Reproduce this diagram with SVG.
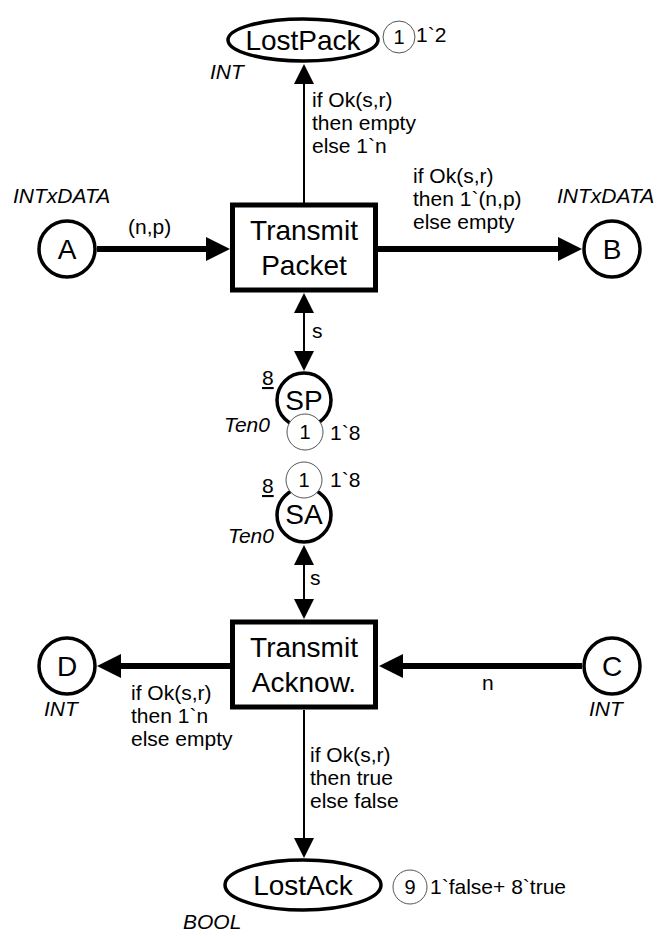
<svg xmlns="http://www.w3.org/2000/svg" width="659" height="936" viewBox="0 0 659 936">
<style>
text{font-family:"Liberation Sans",Arial,sans-serif;fill:#000}
.nm{font-size:28px;text-anchor:middle}
.lb{font-size:21px}
.ty{font-size:21px;font-style:italic}
.tk{font-size:20px;text-anchor:middle}
.place{fill:#fff;stroke:#000;stroke-width:3.5}
.trans{fill:#fff;stroke:#000;stroke-width:5}
.tok{fill:#fff;stroke:#555;stroke-width:1}
.thick{stroke:#000;stroke-width:6;fill:none}
.thin{stroke:#000;stroke-width:2;fill:none}
</style>
<defs>
<marker id="ahT" markerUnits="userSpaceOnUse" viewBox="0 0 24 24" markerWidth="24" markerHeight="24" refX="1" refY="12" orient="auto-start-reverse"><path d="M0,0 L24,12 L0,24 z" fill="#000"/></marker>
<marker id="ahN" markerUnits="userSpaceOnUse" viewBox="0 0 20 20" markerWidth="20" markerHeight="20" refX="1" refY="10" orient="auto-start-reverse"><path d="M0,0 L20,10 L0,20 z" fill="#000"/></marker>
</defs>
<rect width="659" height="936" fill="#fff"/>
<g id="connectors">
<line class="thin" x1="304" y1="203" x2="304" y2="83" marker-end="url(#ahN)"/>
<line class="thick" x1="97" y1="249" x2="207" y2="249" marker-end="url(#ahT)"/>
<line class="thick" x1="378" y1="249" x2="559" y2="249" marker-end="url(#ahT)"/>
<line class="thin" x1="304" y1="312" x2="304" y2="352" marker-start="url(#ahN)" marker-end="url(#ahN)"/>
<line class="thin" x1="304" y1="564" x2="304" y2="600" marker-start="url(#ahN)" marker-end="url(#ahN)"/>
<line class="thick" x1="230" y1="666" x2="120" y2="666" marker-end="url(#ahT)"/>
<line class="thick" x1="582" y1="666" x2="402" y2="666" marker-end="url(#ahT)"/>
<line class="thin" x1="304" y1="710" x2="304" y2="839" marker-end="url(#ahN)"/>
<text class="lb" x="312" y="107">if Ok(s,r)</text>
<text class="lb" x="312" y="130">then empty</text>
<text class="lb" x="312" y="153">else 1`n</text>
<text class="lb" x="128" y="234">(n,p)</text>
<text class="lb" x="413" y="183">if Ok(s,r)</text>
<text class="lb" x="413" y="206">then 1`(n,p)</text>
<text class="lb" x="413" y="229">else empty</text>
<text class="lb" x="312" y="338">s</text>
<text class="lb" x="310" y="585">s</text>
<text class="lb" x="482" y="690">n</text>
<text class="lb" x="131" y="700">if Ok(s,r)</text>
<text class="lb" x="131" y="723">then 1`n</text>
<text class="lb" x="131" y="746">else empty</text>
<text class="lb" x="310" y="762">if Ok(s,r)</text>
<text class="lb" x="310" y="785">then true</text>
<text class="lb" x="310" y="808">else false</text>
</g>
<g id="LostPack">
<ellipse class="place" cx="303" cy="40" rx="75" ry="21"/>
<text class="nm" x="303" y="50">LostPack</text>
<text class="ty" x="210" y="79">INT</text>
<circle class="tok" cx="399" cy="37" r="16"/>
<text class="tk" x="399" y="44">1</text>
<text class="lb" x="416" y="42">1`2</text>
</g>
<g id="A">
<circle class="place" cx="67" cy="249" r="28"/>
<text class="nm" x="67" y="259">A</text>
<text class="ty" x="13" y="203">INTxDATA</text>
</g>
<g id="B">
<circle class="place" cx="612" cy="249" r="28"/>
<text class="nm" x="612" y="259">B</text>
<text class="ty" x="557" y="203">INTxDATA</text>
</g>
<g id="TransmitPacket">
<rect class="trans" x="232.5" y="205" width="143" height="85"/>
<text class="nm" x="304" y="240">Transmit</text>
<text class="nm" x="304" y="275">Packet</text>
</g>
<g id="SP">
<circle class="place" cx="304" cy="400" r="27"/>
<text class="nm" x="304" y="410">SP</text>
<text class="lb" x="262" y="385" text-decoration="underline">8</text>
<text class="ty" x="224" y="432">Ten0</text>
<circle class="tok" cx="305" cy="432" r="18"/>
<text class="tk" x="305" y="439">1</text>
<text class="lb" x="330" y="440">1`8</text>
</g>
<g id="SA">
<circle class="place" cx="304" cy="515" r="27"/>
<text class="nm" x="304" y="524">SA</text>
<text class="lb" x="262" y="493" text-decoration="underline">8</text>
<text class="ty" x="228" y="543">Ten0</text>
<circle class="tok" cx="304" cy="480" r="18"/>
<text class="tk" x="304" y="487">1</text>
<text class="lb" x="330" y="487">1`8</text>
</g>
<g id="TransmitAcknow">
<rect class="trans" x="232.5" y="622" width="143" height="85"/>
<text class="nm" x="304" y="657">Transmit</text>
<text class="nm" x="304" y="692">Acknow.</text>
</g>
<g id="D">
<circle class="place" cx="67" cy="666" r="28"/>
<text class="nm" x="67" y="676">D</text>
<text class="ty" x="44" y="716">INT</text>
</g>
<g id="C">
<circle class="place" cx="612" cy="666" r="28"/>
<text class="nm" x="612" y="676">C</text>
<text class="ty" x="589" y="716">INT</text>
</g>
<g id="LostAck">
<ellipse class="place" cx="303" cy="885" rx="78" ry="25"/>
<text class="nm" x="303" y="895">LostAck</text>
<text class="ty" x="183" y="929">BOOL</text>
<circle class="tok" cx="410" cy="887" r="17"/>
<text class="tk" x="410" y="894">9</text>
<text class="lb" x="430" y="894">1`false+ 8`true</text>
</g>
</svg>
